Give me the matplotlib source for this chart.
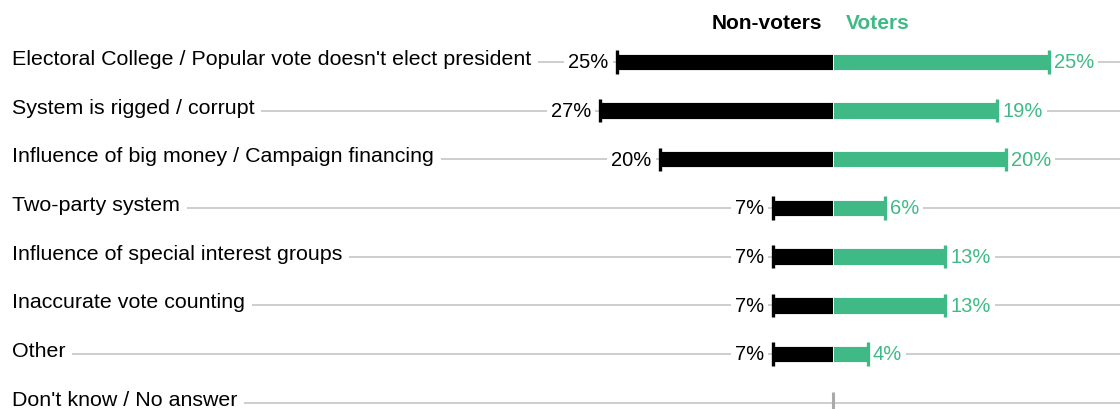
import matplotlib.pyplot as plt
import matplotlib.transforms as mtransforms

plt.rcParams['font.family'] = ['Liberation Sans', 'DejaVu Sans']

categories = ["Electoral College / Popular vote doesn't elect president",
              "System is rigged / corrupt",
              "Influence of big money / Campaign financing",
              "Two-party system",
              "Influence of special interest groups",
              "Inaccurate vote counting",
              "Other",
              "Don't know / No answer"]
non_voters = [25, 27, 20, 7, 7, 7, 7, None]
voters = [25, 19, 20, 6, 13, 13, 4, None]

green = '#3fba87'
grid_col = '#c6c6c6'

fig = plt.figure(figsize=(11.2, 4.1), dpi=100)
ax = fig.add_axes([0, 0, 1, 1])
ax.set_xlim(-96.4, 33.2)
ax.set_ylim(7.13, -1.29)
ax.axis('off')

# x in axes fraction, y in data
tr = mtransforms.blended_transform_factory(ax.transAxes, ax.transData)

for i, cat in enumerate(categories):
    ax.hlines(i, 14 / 1120, 1, transform=tr, color=grid_col, lw=1.2, zorder=1)
    ax.text(12 / 1120, i - 0.07, cat, transform=tr, ha='left', va='center',
            fontsize=15.4, color='black', zorder=3,
            bbox=dict(facecolor='white', edgecolor='none', pad=5))

    nv = non_voters[i]
    v = voters[i]
    if nv is None or v is None:
        # center marker for empty row
        ax.vlines(0, i - 0.22, i + 0.22, color='#aaaaaa', lw=2.2, zorder=2)
        continue

    ax.barh(i, -nv, height=0.34, color='black', edgecolor='white', lw=0.6, zorder=2)
    ax.barh(i, v, height=0.34, color=green, edgecolor='white', lw=0.6, zorder=2)
    ax.vlines(-nv, i - 0.24, i + 0.24, color='black', lw=2.4, zorder=5)
    ax.vlines(v, i - 0.24, i + 0.24, color=green, lw=2.4, zorder=5)

    ax.text(-nv - 1.0, i, f"{nv}%", ha='right', va='center', fontsize=14.5,
            color='black', zorder=3,
            bbox=dict(facecolor='white', edgecolor='none', pad=3))
    ax.text(v + 0.55, i, f"{v}%", ha='left', va='center', fontsize=14.5,
            color=green, zorder=3,
            bbox=dict(facecolor='white', edgecolor='none', pad=3))

ax.text(-1.3, -0.8, "Non-voters", ha='right', va='center', fontsize=15,
        fontweight='bold', color='black')
ax.text(1.5, -0.8, "Voters", ha='left', va='center', fontsize=15,
        fontweight='bold', color=green)

fig.savefig('out.png', dpi=100)
